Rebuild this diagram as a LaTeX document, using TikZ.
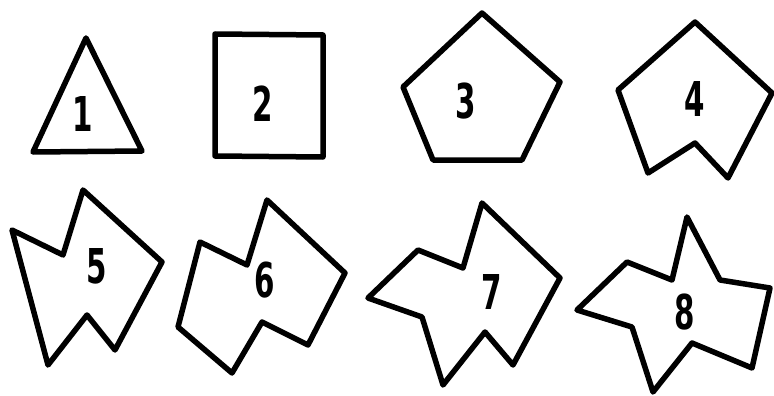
\documentclass[tikz,border=0pt]{standalone}
\usepackage{fontspec}
\setmainfont{DejaVu Sans}
\newfontfamily\digitfont{DejaVu Sans Condensed}
\begin{document}
\begin{tikzpicture}[x=1pt,y=-1pt,
  fig/.style={draw=black,line width=5.5pt,line join=round,fill=white},
  num/.style={font=\digitfont\bfseries\fontsize{48}{48}\selectfont,inner sep=0pt,anchor=center,xscale=0.68,transform shape}]
\useasboundingbox[fill=white] (0,0) rectangle (774,396);
% 1 triangle
\draw[fig] (86,38) -- (142,151) -- (33,152) -- cycle;
\node[num] (n1) at (83,114) {1};
% 2 square
\draw[fig] (215,34) -- (323,35) -- (323,157) -- (215,156) -- cycle;
\node[num] (n2) at (263,104) {2};
% 3 pentagon
\draw[fig] (482,13) -- (560,82) -- (522,160) -- (433,160) -- (403,87) -- cycle;
\node[num] (n3) at (466,101) {3};
% 4
\draw[fig] (695,22) -- (772,93) -- (728,178) -- (695,143) -- (648,173) -- (618,90) -- cycle;
\node[num] (n4) at (695,99) {4};
% 5
\draw[fig] (83,190) -- (162,262) -- (115,350) -- (87,315) -- (48,365) -- (12,230) -- (63,255) -- cycle;
\node[num] (n5) at (97,266) {5};
% 6
\draw[fig] (267,200) -- (345,273) -- (308,345) -- (262,322) -- (232,373) -- (178,327) -- (200,242) -- (247,265) -- cycle;
\node[num] (n6) at (265,280) {6};
% 7
\draw[fig] (482,203) -- (560,278) -- (513,365) -- (485,332) -- (443,385) -- (422,317) -- (368,298) -- (418,250) -- (463,268) -- cycle;
\node[num] (n7) at (492,292) {7};
% 8
\draw[fig] (687,217) -- (720,280) -- (770,288) -- (752,368) -- (692,343) -- (653,392) -- (632,327) -- (577,310) -- (627,262) -- (672,280) -- cycle;
\node[num] (n8) at (685,312) {8};
\end{tikzpicture}
\end{document}
